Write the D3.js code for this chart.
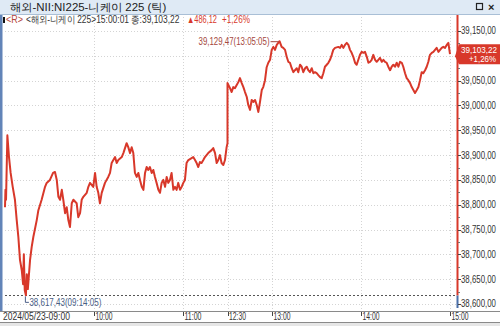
<!DOCTYPE html>
<html>
<head>
<meta charset="utf-8">
<script src="https://cdn.jsdelivr.net/npm/d3@7"></script>
<style>
body { margin: 0; background: #fff; }
svg { display: block; font-family: "Liberation Sans", Arial, sans-serif; }
</style>
</head>
<body>
<div id="chart"></div>
<script>
// temps en minutes depuis 09:00 (heure réelle, pause de 11:30 à 12:30)
var times = [
  0.0, 0.3, 0.7, 1.6, 2.7, 3.8, 5.2, 6.7, 7.9, 9.0, 10.1, 11.3, 12.2, 12.7, 13.3, 14.08, 14.7, 15.4,
  16.9, 18.0, 19.1, 21.4, 22.5, 24.7, 27.0, 28.1, 30.3, 32.4, 33.7, 34.9, 36.0, 37.1, 38.3, 39.3,
  40.5, 41.6, 42.7, 43.8, 45.0, 46.1, 48.3, 49.4, 50.6, 51.7, 52.8, 55.1, 56.2, 57.3, 59.5, 60.7,
  61.8, 62.9, 64.0, 65.2, 67.4, 69.6, 70.8, 71.9, 74.2, 75.3, 76.4, 78.7, 79.8, 82.0, 83.1, 84.3,
  85.4, 86.5, 87.6, 88.8, 89.9, 91.0, 92.2, 93.3, 94.4, 95.5, 96.6, 97.7, 98.9, 100.0, 101.1, 102.2,
  103.4, 104.5, 105.6, 106.7, 107.9, 109.0, 110.1, 111.2, 112.3, 113.5, 114.6, 115.7, 116.8, 118.0,
  119.1, 120.2, 121.3, 122.4, 123.6, 125.8, 126.9, 128.1, 129.2, 130.3, 131.4, 132.5, 133.7, 134.8,
  137.0, 139.3, 140.4, 141.6, 142.7, 143.8, 144.9, 146.0, 147.2, 148.3, 149.4, 150.0,
  210.0, 211.7, 212.8, 213.9, 215.1, 216.2, 217.3, 218.4, 219.6, 220.7, 221.8, 223.0, 224.0, 225.2,
  226.3, 227.4, 228.6, 229.7, 230.8, 231.9, 233.1, 234.1, 235.3, 236.4, 237.5, 238.7, 239.8, 240.9,
  242.0, 243.2, 245.08, 246.0, 246.5, 247.6, 248.8, 249.9, 251.0, 252.1, 253.3, 254.4, 255.5, 256.7,
  257.7, 258.9, 260.0, 261.1, 262.3, 263.4, 264.5, 265.6, 266.8, 267.9, 269.0, 270.1, 271.2, 272.4,
  273.5, 274.6, 275.7, 276.9, 278.0, 279.1, 280.3, 281.3, 282.5, 284.7, 285.9, 287.0, 288.1, 289.2,
  290.4, 291.5, 292.6, 293.7, 294.8, 296.0, 297.1, 298.2, 299.3, 300.5, 301.6, 302.7, 303.9, 305.0,
  306.1, 307.2, 308.3, 309.5, 310.6, 311.7, 312.8, 314.0, 315.1, 316.2, 317.3, 318.4, 319.6, 320.7,
  321.8, 322.9, 324.1, 325.2, 326.3, 327.5, 328.5, 329.7, 330.8, 331.9, 333.1, 334.2, 335.3, 336.4,
  337.6, 338.7, 339.8, 340.9, 342.0, 343.2, 344.3, 345.4, 346.5, 347.7, 348.8, 349.9, 351.0, 352.2,
  353.3, 354.4, 355.5, 356.6, 357.8, 358.9, 360.0
];
var prices = [
  38795, 38830, 38810, 38940, 38896, 38864, 38836, 38810, 38769, 38735, 38689, 38668, 38640, 38700, 38628, 38617.43, 38660, 38630,
  38689, 38715, 38735, 38769, 38789, 38810, 38836, 38844, 38850, 38864, 38866, 38850, 38816, 38810, 38830, 38810,
  38783, 38795, 38769, 38755, 38803, 38810, 38803, 38775, 38783, 38810, 38816, 38824, 38836, 38844, 38836, 38864,
  38836, 38824, 38803, 38824, 38844, 38856, 38864, 38884, 38896, 38884, 38890, 38896, 38904, 38924, 38916, 38904,
  38916, 38904, 38864, 38856, 38864, 38850, 38836, 38830, 38864, 38876, 38870, 38876, 38864, 38870, 38856, 38844,
  38830, 38824, 38844, 38850, 38836, 38856, 38844, 38850, 38864, 38830, 38836, 38830, 38844, 38830,
  38836, 38844, 38850, 38884, 38890, 38894, 38896, 38890, 38884, 38876, 38886, 38884, 38890, 38896,
  38904, 38910, 38914, 38904, 38884, 38890, 38900, 38884, 38880, 38890, 38916, 38924,
  39045, 39035, 39027, 39037, 39035, 39041, 39047, 39055, 39045, 39037, 39027, 39017, 39001, 38991,
  39011, 39007, 39011, 39001, 38987, 39007, 39031, 39037, 39051, 39077, 39086, 39092, 39112, 39118,
  39112, 39122, 39129.47, 39122, 39118, 39116, 39112, 39098, 39088, 39086, 39075, 39067, 39071, 39075,
  39067, 39082, 39078, 39067, 39075, 39078, 39071, 39067, 39075, 39065, 39067, 39065, 39061, 39057,
  39055, 39065, 39078, 39082, 39086, 39092, 39102, 39112, 39116, 39118, 39116, 39122, 39116, 39122,
  39126, 39122, 39112, 39106, 39098, 39086, 39082, 39092, 39102, 39108, 39106, 39108, 39098, 39086,
  39088, 39092, 39102, 39092, 39088, 39092, 39096, 39088, 39092, 39088, 39086, 39078, 39071, 39078,
  39082, 39078, 39086, 39078, 39088, 39086, 39078, 39065, 39055, 39051, 39045, 39037, 39031, 39025,
  39031, 39037, 39051, 39067, 39065, 39071, 39078, 39088, 39102, 39106, 39108, 39112, 39116, 39108,
  39112, 39116, 39118, 39116, 39122, 39126, 39103.22
];
var yTicks = [38600, 38650, 38700, 38750, 38800, 38850, 38900, 38950, 39000, 39050, 39100, 39150];
var xTickTimes = [0, 60, 120, 210, 240, 300, 360];
var xTickLabels = ["2024/05/23-09:00", "10:00", "11:00", "12:30", "13:00", "14:00", "15:00"];
var xTickWidths = [67, 17, 17, 17, 17, 17, 17];

var titleText = "해외-NII:NI225-니케이 225 (틱)";
var infoText = "<해외-니케이 225>15:00:01 종:39,103,22";
var lastPrice = 39103.22;
var change = 486.12;
var changePct = 1.26;
var prevClose = 38617.10;
var highTime = 245.08, highPrice = 39129.47, highLabel = "13:05:05";
var lowTime = 14.08, lowPrice = 38617.43, lowLabel = "09:14:05";

var width = 500, height = 326;
var red = "#d8382a";

// format coréen du HTS : virgule à la place du point décimal
var fmt2 = d3.format(",.2f");
function num(v) {
    return fmt2(v).replace(".", ",");
}

// la police du HTS est étroite : on compresse chaque texte à la largeur mesurée
function fit(sel, w) {
    sel.each(function (d, i) {
        var ww = typeof w === "function" ? w(d, i) : w;
        var len = this.getComputedTextLength();
        var x0 = +this.getAttribute("x");
        var anchor = this.getAttribute("text-anchor");
        if (len > 0) {
            this.setAttribute("transform", "translate(" + x0 + ",0) scale(" + (ww / len) + ",1) translate(" + (-x0) + ",0)");
        }
    });
    return sel;
}

var svg = d3.select("#chart").append("svg")
    .attr("width", width)
    .attr("height", height);

// échelles : la pause déjeuner est écrasée
var x = d3.scaleLinear().domain([0, 150, 210, 360]).range([5, 227.5, 227.5, 450]);
var y = d3.scaleLinear().domain([38600, 39150]).range([304, 31]);

// barre de titre
svg.append("rect").attr("x", 0).attr("y", 0).attr("width", width).attr("height", 14)
    .attr("fill", "#dfeaf5");
svg.append("line").attr("x1", 0).attr("x2", width).attr("y1", 14.5).attr("y2", 14.5)
    .attr("stroke", "#a9bfd6");
fit(svg.append("text").attr("x", 10).attr("y", 11).attr("font-size", 11)
    .attr("fill", "#222").text(titleText), 158);
// icônes fenêtre
svg.append("rect").attr("x", 476.5).attr("y", 3.5).attr("width", 6).attr("height", 6)
    .attr("fill", "none").attr("stroke", "#222").attr("stroke-width", 1.2);
svg.append("text").attr("x", 488).attr("y", 11).attr("font-size", 11).attr("font-weight", "bold")
    .attr("fill", "#222").text("×");

// bande bleue à gauche
svg.append("rect").attr("x", 0).attr("y", 15).attr("width", 2.5).attr("height", 296)
    .attr("fill", "#6284b8");

// grille
svg.append("g").selectAll("line").data(yTicks).enter().append("line")
    .attr("x1", 5).attr("x2", 457)
    .attr("y1", d => Math.round(y(d)) + 0.5).attr("y2", d => Math.round(y(d)) + 0.5)
    .attr("stroke", "#d4d4d4").attr("stroke-dasharray", "1,2");
svg.append("g").selectAll("line").data(xTickTimes.slice(1)).enter().append("line")
    .attr("x1", d => Math.round(x(d)) + 0.5).attr("x2", d => Math.round(x(d)) + 0.5)
    .attr("y1", 17).attr("y2", 311)
    .attr("stroke", "#d4d4d4").attr("stroke-dasharray", "1,2");

// ligne du plus bas
svg.append("line").attr("x1", 5).attr("x2", 457)
    .attr("y1", Math.round(y(lowPrice)) + 0.5).attr("y2", Math.round(y(lowPrice)) + 0.5)
    .attr("stroke", "#555").attr("stroke-dasharray", "2,2");

// ligne d'info
svg.append("rect").attr("x", 3).attr("y", 17).attr("width", 2).attr("height", 6).attr("fill", "#111");
fit(svg.append("text").attr("x", 6).attr("y", 23).attr("font-size", 10).attr("fill", "#b5473d")
    .text("<R>"), 17);
fit(svg.append("text").attr("x", 26).attr("y", 23).attr("font-size", 10).attr("fill", "#333")
    .text(infoText), 155);
fit(svg.append("text").attr("x", 187).attr("y", 23).attr("font-size", 10).attr("fill", red)
    .text("▲" + num(change)), 30);
fit(svg.append("text").attr("x", 222).attr("y", 23).attr("font-size", 10).attr("fill", red)
    .text("+" + num(changePct) + "%"), 28);

// courbe
var data = times.map(function (t, i) { return {t: t, v: prices[i]}; });
var line = d3.line().x(d => x(d.t)).y(d => y(d.v));
svg.append("path").datum(data)
    .attr("d", line)
    .attr("fill", "none")
    .attr("stroke", red)
    .attr("stroke-width", 2)
    .attr("stroke-linejoin", "round");

// étiquette du plus haut
var hx = x(highTime), hy = y(highPrice);
svg.append("line").attr("x1", hx - 9).attr("x2", hx - 1).attr("y1", hy + 0.5).attr("y2", hy + 0.5)
    .attr("stroke", "#a5473d");
fit(svg.append("text").attr("x", hx - 81).attr("y", hy + 3.5).attr("font-size", 10)
    .attr("fill", "#a5473d")
    .text(num(highPrice) + "(" + highLabel + ")"), 71);

// étiquette du plus bas
var lx = x(lowTime), ly = y(lowPrice);
svg.append("path").attr("d", "M" + (lx - 0.5) + "," + (ly + 1) + "V" + (ly + 7) + "H" + (lx + 3))
    .attr("fill", "none").attr("stroke", "#4a5e86");
fit(svg.append("text").attr("x", lx + 3.5).attr("y", ly + 11).attr("font-size", 10)
    .attr("fill", "#4a5e86")
    .text(num(lowPrice) + "(" + lowLabel + ")"), 72);

// axe droit
svg.append("rect").attr("x", 456.5).attr("y", 15).attr("width", 2).attr("height", y(prevClose) - 15)
    .attr("fill", red);
svg.append("rect").attr("x", 456.5).attr("y", y(prevClose)).attr("width", 2).attr("height", 308 - y(prevClose))
    .attr("fill", "#4a6fa8");
var by = y(lastPrice);
// l'étiquette cachée par la boîte du dernier cours n'est pas affichée
var shownTicks = yTicks.filter(d => Math.abs(y(d) - by) > 12);
var yAxis = svg.append("g");
yAxis.selectAll("line.major").data(yTicks).enter().append("line")
    .attr("x1", 458).attr("x2", 461)
    .attr("y1", d => Math.round(y(d)) + 0.5).attr("y2", d => Math.round(y(d)) + 0.5)
    .attr("stroke", "#444");
yAxis.selectAll("line.minor").data(yTicks.slice(0, -1).map(d => d + 25)).enter().append("line")
    .attr("x1", 458).attr("x2", 460)
    .attr("y1", d => Math.round(y(d)) + 0.5).attr("y2", d => Math.round(y(d)) + 0.5)
    .attr("stroke", "#777");
fit(yAxis.selectAll("text").data(shownTicks).enter().append("text")
    .attr("x", 461).attr("y", d => y(d) + 3.5)
    .attr("font-size", 10).attr("fill", "#333")
    .text(d => num(d)), 35);

// boîte du dernier cours
svg.append("path")
    .attr("d", "M455," + (by + 2) + "L459," + (by - 10) + "H500V" + (by + 10) + "H459Z")
    .attr("fill", red);
fit(svg.append("text").attr("x", 461).attr("y", by - 1.5).attr("font-size", 9.5).attr("fill", "#fff")
    .text(num(lastPrice)), 36);
fit(svg.append("text").attr("x", 469).attr("y", by + 8).attr("font-size", 9.5).attr("fill", "#fff")
    .text("+" + num(changePct) + "%"), 27);

// axe du temps
svg.append("line").attr("x1", 0).attr("x2", width).attr("y1", 311.5).attr("y2", 311.5).attr("stroke", "#8a8a8a");
svg.append("line").attr("x1", 0).attr("x2", width).attr("y1", 322.5).attr("y2", 322.5).attr("stroke", "#8a8a8a");
svg.append("rect").attr("x", 0).attr("y", 323).attr("width", width).attr("height", 3).attr("fill", "#e6e6e6");
var xAxis = svg.append("g");
xAxis.selectAll("line").data(xTickTimes.slice(1)).enter().append("line")
    .attr("x1", d => Math.round(x(d)) + 0.5).attr("x2", d => Math.round(x(d)) + 0.5)
    .attr("y1", 312).attr("y2", 316)
    .attr("stroke", "#444");
fit(xAxis.selectAll("text").data(xTickTimes).enter().append("text")
    .attr("x", (d, i) => i === 0 ? 3 : x(d) + 1.5)
    .attr("y", 320.5)
    .attr("font-size", 10).attr("fill", "#333")
    .text((d, i) => xTickLabels[i]), (d, i) => xTickWidths[i]);
</script>
</body>
</html>
